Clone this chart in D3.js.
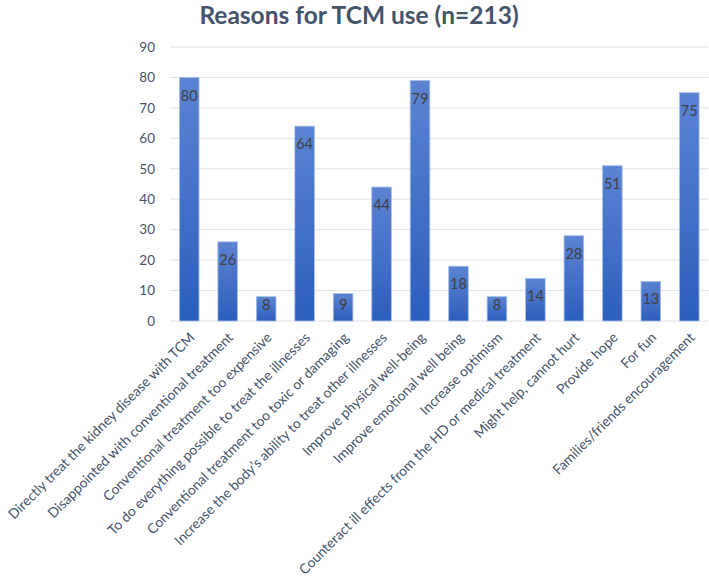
<!DOCTYPE html>
<html>
<head>
<meta charset="utf-8">
<script src="https://cdn.jsdelivr.net/npm/d3@7"></script>
<style>
  body { margin: 0; background: #fff; }
  text { font-family: Lato, "Open Sans", sans-serif; }
</style>
</head>
<body>
<div id="chart"></div>
<script>
const reasons = [
  'Directly treat the kidney disease with TCM',
  'Disappointed with conventional treatment',
  'Conventional treatment too expensive',
  'To do everything possible to treat the illnesses',
  'Conventional treatment too toxic or damaging',
  'Increase the body\u2019s ability to treat other illnesses',
  'Improve physical well-being',
  'Improve emotional well being',
  'Increase optimism',
  'Counteract ill effects from the HD or medical treatment',
  'Might help, cannot hurt',
  'Provide hope',
  'For fun',
  'Families/friends encouragement'
];
const counts = [80, 26, 8, 64, 9, 44, 79, 18, 8, 14, 28, 51, 13, 75];
const yTicks = [0, 10, 20, 30, 40, 50, 60, 70, 80, 90];

const w = 709;
const h = 584;
const textColor = '#44546a';

const svg = d3.select('#chart').append('svg').attr('width', w).attr('height', h);

const defs = svg.append('defs');
const grad = defs.append('linearGradient')
  .attr('id', 'barGrad')
  .attr('x1', 0).attr('y1', 0).attr('x2', 0).attr('y2', 1);
grad.append('stop').attr('offset', '0%').attr('stop-color', '#5b83d2');
grad.append('stop').attr('offset', '100%').attr('stop-color', '#2d5ebd');

const xScale = d3.scaleBand()
  .domain(reasons)
  .range([170, 708.5])
  .paddingInner(0.49)
  .paddingOuter(0.245);

const yScale = d3.scaleLinear()
  .domain([0, 90])
  .range([321, 47]);

// title
svg.append('text')
  .attr('x', 359)
  .attr('y', 24)
  .attr('text-anchor', 'middle')
  .attr('font-size', 24.5)
  .attr('font-weight', 'bold')
  .attr('fill', textColor)
  .text('Reasons for TCM use (n=213)');

// gridlines
svg.append('g')
  .selectAll('line')
  .data(yTicks)
  .enter()
  .append('line')
  .attr('x1', 170)
  .attr('x2', 708.5)
  .attr('y1', d => yScale(d))
  .attr('y2', d => yScale(d))
  .attr('stroke', '#dfe2e8')
  .attr('stroke-width', 1);

// y axis labels
const yAxis = d3.axisLeft(yScale).tickValues(yTicks).tickSize(0).tickPadding(15);
svg.append('g')
  .attr('transform', 'translate(170,0)')
  .call(yAxis)
  .call(g => g.select('.domain').remove())
  .call(g => g.selectAll('text')
    .attr('font-size', 13.5)
    .attr('fill', textColor)
    .style('font-family', 'Lato, sans-serif'));

// bars
svg.append('g')
  .selectAll('rect')
  .data(counts)
  .enter()
  .append('rect')
  .attr('x', (d, i) => xScale(reasons[i]))
  .attr('y', d => yScale(d))
  .attr('width', xScale.bandwidth())
  .attr('height', d => yScale(0) - yScale(d))
  .attr('fill', 'url(#barGrad)')
  .attr('stroke', '#a9bfe8')
  .attr('stroke-width', 0.8);

// data labels
svg.append('g')
  .selectAll('text')
  .data(counts)
  .enter()
  .append('text')
  .attr('x', (d, i) => xScale(reasons[i]) + xScale.bandwidth() / 2)
  .attr('y', d => Math.min(yScale(d) + 18, yScale(0) - 16.5))
  .attr('dy', '0.35em')
  .attr('text-anchor', 'middle')
  .attr('font-size', 14.5)
  .attr('fill', '#404040')
  .text(d => d);

// x axis labels
const xAxis = d3.axisBottom(xScale).tickSize(0).tickPadding(0);
svg.append('g')
  .attr('transform', `translate(0,${yScale(0)})`)
  .call(xAxis)
  .call(g => g.select('.domain').remove())
  .call(g => g.selectAll('text')
    .attr('font-size', 13.8)
    .attr('fill', textColor)
    .style('font-family', 'Lato, sans-serif')
    .attr('text-anchor', 'end')
    .attr('dy', '0.35em')
    .attr('transform', 'translate(3,14) rotate(-45)'));
</script>
</body>
</html>
